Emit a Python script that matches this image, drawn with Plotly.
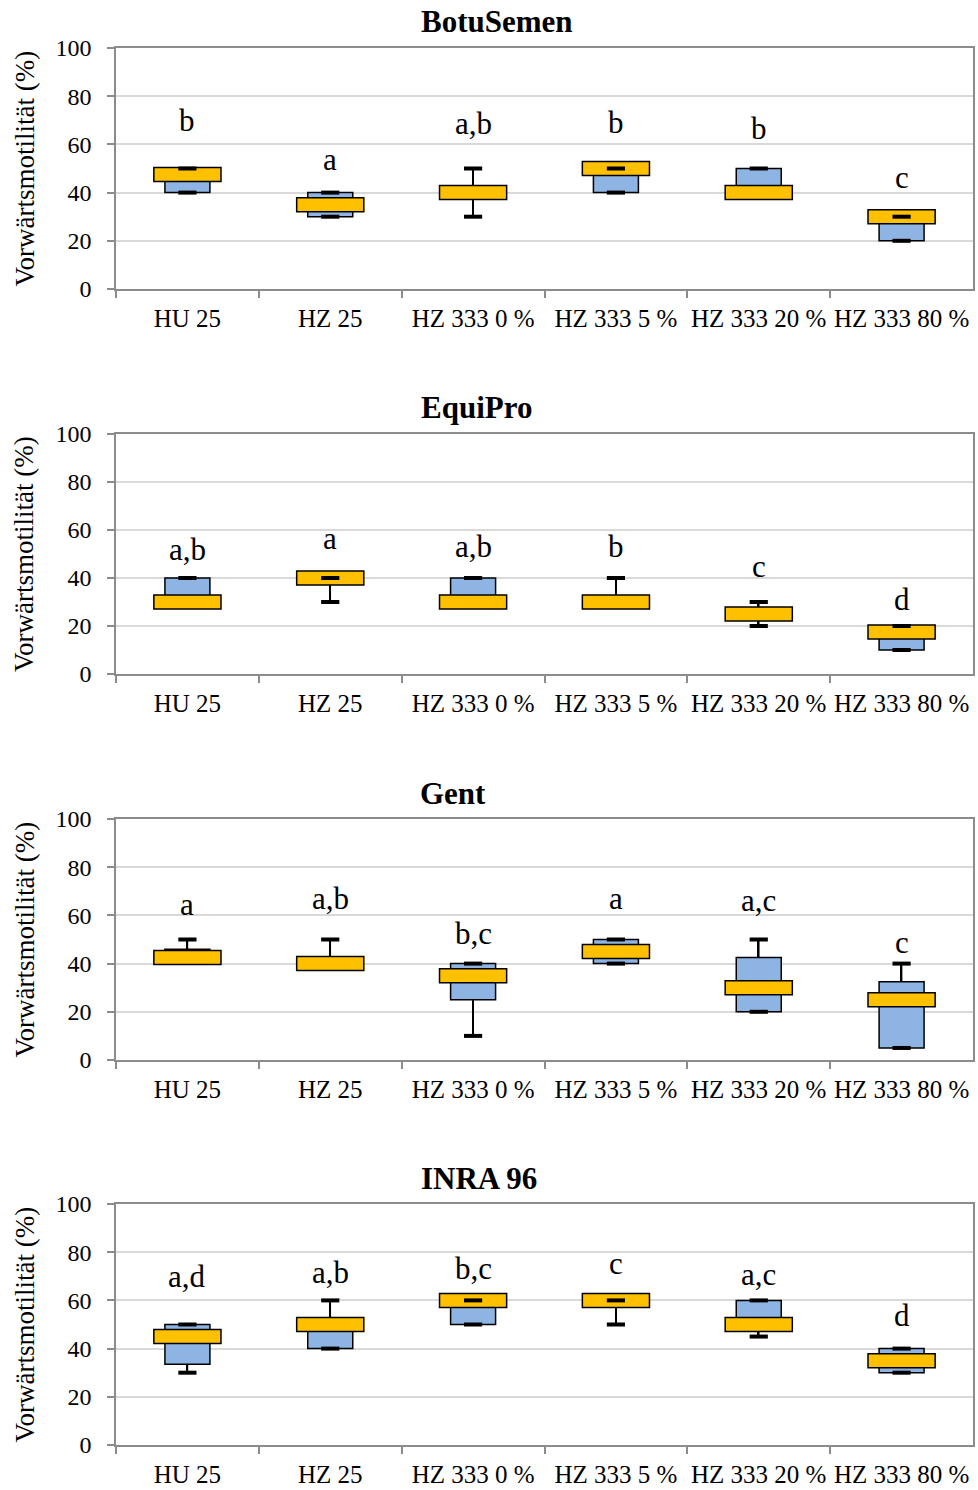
import plotly.graph_objects as go

categories = ["HU 25", "HZ 25", "HZ 333 0 %", "HZ 333 5 %", "HZ 333 20 %", "HZ 333 80 %"]
panel_titles = ["BotuSemen", "EquiPro", "Gent", "INRA 96"]
y_title = "Vorwärtsmotilität (%)"

# BotuSemen
botu_q1 = [40, 30, 40, 40, 40, 20]
botu_q3 = [50, 40, 40, 50, 50, 30]
botu_med = [47.5, 35, 40, 50, 40, 30]
botu_min = [40, 30, 30, 40, None, 20]
botu_max = [50, 40, 50, 50, 50, 30]
botu_letters = ["b", "a", "a,b", "b", "b", "c"]
botu_letter_y = [65.3, 49.3, 64.2, 64.6, 62.1, 41.9]

# EquiPro
equi_q1 = [30, 40, 30, 30, 25, 10]
equi_q3 = [40, 40, 40, 30, 25, 20]
equi_med = [30, 40, 30, 30, 25, 17.5]
equi_min = [None, 30, None, None, 20, 10]
equi_max = [40, 40, 40, 40, 30, 20]
equi_letters = ["a,b", "a", "a,b", "b", "c", "d"]
equi_letter_y = [47.2, 51.8, 48.6, 48.6, 40.3, 26.4]

# Gent
gent_q1 = [40, 40, 25, 40, 20, 5]
gent_q3 = [46, 40, 40, 50, 42.5, 32.5]
gent_med = [42.5, 40, 35, 45, 30, 25]
gent_min = [None, None, 10, 40, 20, 5]
gent_max = [50, 50, 40, 50, 50, 40]
gent_letters = ["a", "a,b", "b,c", "a", "a,c", "c"]
gent_letter_y = [60.1, 62.5, 47.9, 62.5, 61.5, 44.4]

# INRA 96
inra_q1 = [33.5, 40, 50, 60, 50, 30]
inra_q3 = [50, 52.5, 60, 60, 60, 40]
inra_med = [45, 50, 60, 60, 50, 35]
inra_min = [30, 40, 50, 50, 45, 30]
inra_max = [50, 60, 60, 60, 60, 40]
inra_letters = ["a,d", "a,b", "b,c", "c", "a,c", "d"]
inra_letter_y = [65.4, 67.1, 68.75, 70.8, 66.1, 49.0]

panels = [
    dict(q1=botu_q1, q3=botu_q3, med=botu_med, lo=botu_min, hi=botu_max, let=botu_letters, ly=botu_letter_y),
    dict(q1=equi_q1, q3=equi_q3, med=equi_med, lo=equi_min, hi=equi_max, let=equi_letters, ly=equi_letter_y),
    dict(q1=gent_q1, q3=gent_q3, med=gent_med, lo=gent_min, hi=gent_max, let=gent_letters, ly=gent_letter_y),
    dict(q1=inra_q1, q3=inra_q3, med=inra_med, lo=inra_min, hi=inra_max, let=inra_letters, ly=inra_letter_y),
]

FONT = "Liberation Serif, Times New Roman, serif"
W, H = 978, 1490
PLOT_L, PLOT_R = 116, 973
PANEL_PX = [(48, 289), (434, 674), (819, 1060), (1204, 1445)]
TITLE_PX = [(497, 22), (476, 408), (453, 793), (479, 1178)]
MED_HALF = 2.9
AXIS_GRAY = "#8c8c8c"
GRID_GRAY = "#d9d9d9"
BLUE = "#8EB4E3"
ORANGE = "#FFC000"
LETTER_SIZE = 31
CAT_PX = (PLOT_R - PLOT_L) / len(categories)

fig = go.Figure()
layout = dict(
    width=W, height=H, autosize=False,
    margin=dict(l=0, r=0, t=0, b=0),
    paper_bgcolor="white", plot_bgcolor="white",
    barmode="overlay", showlegend=False, template="none",
    font=dict(family=FONT, color="black"),
)
annotations = []

for i, p in enumerate(panels):
    sfx = "" if i == 0 else str(i + 1)
    xa, ya = "x" + sfx, "y" + sfx
    top_px, bot_px = PANEL_PX[i]

    # whisker lines (thin black bars, drawn first so boxes cover them)
    w_base, w_len = [], []
    for lo, hi, a, b in zip(p["lo"], p["hi"], p["q1"], p["q3"]):
        top = hi if hi is not None else b
        bot = lo if lo is not None else a
        w_base.append(bot)
        w_len.append(top - bot)
    fig.add_trace(go.Bar(x=categories, y=w_len, base=w_base, width=1.6 / CAT_PX,
                         marker=dict(color="black", line=dict(width=0)),
                         xaxis=xa, yaxis=ya, hoverinfo="skip"))
    # blue box (Q1-Q3)
    fig.add_trace(go.Bar(x=categories, y=[b - a for a, b in zip(p["q1"], p["q3"])], base=p["q1"],
                         width=0.315, marker=dict(color=BLUE, line=dict(color="black", width=1.5)),
                         xaxis=xa, yaxis=ya))
    # orange median marker
    fig.add_trace(go.Bar(x=categories, y=[2 * MED_HALF] * len(categories),
                         base=[m - MED_HALF for m in p["med"]],
                         width=0.47, marker=dict(color=ORANGE, line=dict(color="black", width=1.5)),
                         xaxis=xa, yaxis=ya))
    # whisker caps
    cx, cy = [], []
    for c, lo, hi in zip(categories, p["lo"], p["hi"]):
        for v in (lo, hi):
            if v is not None:
                cx.append(c)
                cy.append(v)
    fig.add_trace(go.Scatter(x=cx, y=cy, mode="markers",
                             marker=dict(symbol="line-ew", size=13, color="black",
                                         line=dict(color="black", width=4)),
                             xaxis=xa, yaxis=ya, hoverinfo="skip"))

    layout["xaxis" + sfx] = dict(
        domain=[PLOT_L / W, PLOT_R / W], anchor=ya, type="category",
        categoryorder="array", categoryarray=categories, range=[-0.5, len(categories) - 0.5],
        tickson="boundaries", ticks="outside", ticklen=7, tickwidth=1.5, tickcolor=AXIS_GRAY,
        showline=True, linecolor=AXIS_GRAY, linewidth=1.5, mirror=True,
        showgrid=False, zeroline=False, tickangle=0, automargin=False,
        tickfont=dict(family=FONT, size=25, color="black"), ticklabelstandoff=6,
    )
    layout["yaxis" + sfx] = dict(
        domain=[1 - bot_px / H, 1 - top_px / H], anchor=xa, range=[0, 100], dtick=20,
        ticks="outside", ticklen=7, tickwidth=1.5, tickcolor=AXIS_GRAY,
        showline=True, linecolor=AXIS_GRAY, linewidth=1.5, mirror=True,
        showgrid=True, gridcolor=GRID_GRAY, gridwidth=1.5, zeroline=False, automargin=False,
        tickfont=dict(family=FONT, size=24, color="black"), ticklabelstandoff=11,
    )

    # significance letters
    for c, t, v in zip(categories, p["let"], p["ly"]):
        annotations.append(dict(x=c, y=v, xref=xa, yref=ya, text=t, showarrow=False,
                                xanchor="center", yanchor="middle", yshift=round(0.34 * LETTER_SIZE),
                                font=dict(family=FONT, size=LETTER_SIZE, color="black")))
    # panel title
    tx, ty = TITLE_PX[i]
    annotations.append(dict(x=tx / W, y=1 - ty / H, xref="paper", yref="paper",
                            text="<b>" + panel_titles[i] + "</b>", showarrow=False,
                            xanchor="center", yanchor="middle",
                            font=dict(family=FONT, size=31, color="black")))
    # y-axis title
    annotations.append(dict(x=24 / W, y=1 - (top_px + bot_px) / 2 / H, xref="paper", yref="paper",
                            text=y_title, textangle=-90, showarrow=False,
                            xanchor="center", yanchor="middle",
                            font=dict(family=FONT, size=27, color="black")))

layout["annotations"] = annotations
fig.update_layout(**layout)
fig.write_html("out.html")
